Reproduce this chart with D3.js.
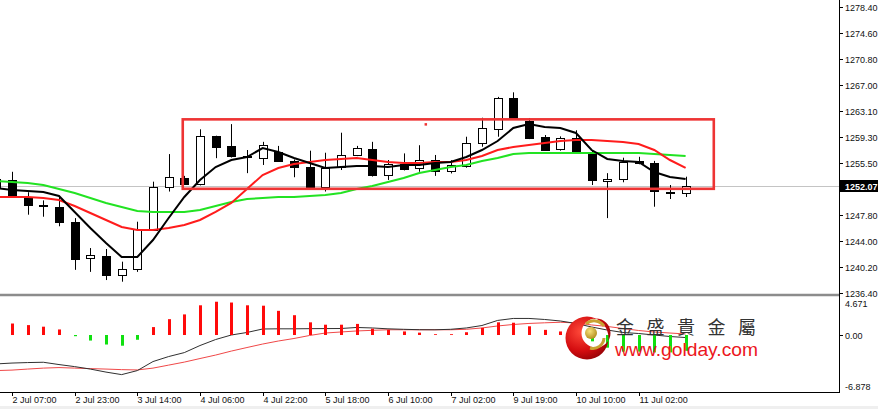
<!DOCTYPE html>
<html><head><meta charset="utf-8">
<script src="https://cdn.jsdelivr.net/npm/d3@7"></script>
<style>html,body{margin:0;padding:0;background:#fff;overflow:hidden}</style>
</head><body><svg id="c" width="878" height="409"></svg>
<script>
// ---------- DATA ----------
const barIndex = d3.range(-1, 44); // 45 H4 bars, index -1 is cut at the left edge
const openP  = [1253.2,1253.0,1250.5,1249.3,1249.07,1246.87,1241.5,1241.83,1239.04,1239.9,1245.75,1252.0,1253.34,1252.4,1259.46,1257.99,1256.45,1256.33,1257.15,1255.8,1254.86,1251.9,1254.95,1256.67,1257.5,1253.73,1255.35,1254.76,1255.93,1254.3,1254.95,1258.38,1260.6,1264.99,1261.66,1259.35,1257.5,1259.12,1257.15,1252.85,1253.24,1255.8,1255.45,1251.3,1251.04];
const highP  = [1254.0,1254.2,1251.2,1250.0,1250.54,1247.4,1243.0,1242.86,1241.0,1246.87,1252.75,1256.8,1253.6,1260.44,1259.5,1261.2,1257.4,1258.6,1258.0,1256.0,1257.3,1257.0,1259.94,1258.0,1258.6,1255.93,1256.9,1258.1,1256.67,1255.9,1259.35,1262.14,1265.2,1265.87,1262.1,1259.6,1259.4,1260.3,1257.3,1254.0,1256.27,1256.4,1255.8,1252.26,1253.48];
const lowP   = [1251.5,1250.6,1247.9,1247.6,1246.2,1239.8,1239.5,1238.3,1238.06,1239.5,1245.6,1251.3,1252.3,1252.2,1256.2,1256.3,1254.0,1255.2,1255.67,1253.4,1251.8,1251.3,1254.46,1256.5,1253.5,1253.0,1254.4,1254.2,1253.6,1253.96,1254.8,1257.88,1259.35,1261.9,1259.0,1257.3,1257.3,1257.0,1252.26,1247.4,1252.66,1255.3,1249.07,1250.2,1250.5];
const closeP = [1251.9,1250.8,1249.3,1249.1,1246.87,1241.5,1242.0,1239.0,1239.9,1245.75,1252.0,1253.4,1252.5,1259.46,1257.88,1256.5,1256.35,1258.2,1255.8,1254.86,1251.9,1254.7,1256.67,1257.74,1253.73,1255.35,1254.6,1255.93,1254.3,1255.2,1258.38,1260.6,1265.08,1262.05,1259.2,1257.5,1259.12,1257.25,1253.0,1253.2,1255.7,1255.45,1251.28,1251.1,1252.07];

const maFast = [1251.82,1251.53,1251.38,1251.23,1250.65,1248.30,1245.95,1243.74,1241.69,1241.69,1244.18,1247.41,1250.50,1252.99,1254.90,1255.93,1256.37,1257.69,1257.11,1256.23,1255.49,1254.76,1254.90,1255.05,1255.05,1254.90,1255.20,1255.20,1255.49,1255.64,1256.37,1257.40,1258.72,1260.63,1261.22,1260.78,1260.63,1259.90,1257.40,1256.08,1255.79,1255.64,1254.17,1253.44,1253.14];
const maMid  = [1250.50,1250.50,1250.50,1250.35,1250.06,1249.18,1248.15,1247.12,1246.09,1245.65,1245.65,1245.95,1246.39,1247.12,1248.30,1249.62,1251.67,1253.73,1254.76,1255.34,1255.64,1255.93,1256.08,1256.23,1255.93,1255.64,1255.49,1255.49,1255.64,1255.64,1255.93,1256.52,1257.40,1257.84,1258.13,1258.43,1258.72,1258.87,1258.87,1258.72,1258.58,1258.28,1257.40,1255.93,1254.76];
const maSlow = [1252.85,1252.70,1252.55,1252.26,1251.67,1251.09,1250.35,1249.62,1249.03,1248.44,1248.30,1248.30,1248.30,1248.59,1249.18,1249.76,1250.20,1250.35,1250.50,1250.50,1250.65,1250.79,1251.09,1251.67,1252.11,1252.70,1253.29,1254.02,1254.46,1254.90,1255.20,1255.79,1256.23,1256.81,1256.96,1256.96,1256.96,1256.96,1256.96,1256.96,1256.96,1256.96,1256.81,1256.67,1256.52];

const macdHist   = [1.6,1.45,1.25,1.05,0.7,-0.15,-0.7,-1.2,-1.35,-0.6,1.0,2.0,2.6,3.75,4.2,4.1,3.75,3.7,3.05,2.5,1.6,1.3,1.3,1.4,0.8,0.65,0.45,0.3,0.1,0.1,0.35,0.9,1.6,1.55,1.1,0.65,0.45,0.2,-0.8,-1.6,-2.1,-2.1,-2.2,-2.2,-2.0];
const macdMain   = [-3.65,-3.54,-3.48,-3.44,-3.73,-3.99,-4.30,-4.68,-5.00,-4.49,-3.35,-2.72,-2.22,-1.33,-0.57,0.00,0.32,0.76,0.78,0.78,0.80,0.81,0.82,0.95,0.89,0.78,0.72,0.67,0.66,0.72,0.89,1.20,1.84,2.09,2.09,1.96,1.77,1.46,1.01,0.63,0.32,0.19,0.00,-0.19,-0.32];
const macdSignal = [-4.49,-4.43,-4.30,-4.18,-4.11,-4.18,-4.24,-4.30,-4.37,-4.41,-4.18,-3.80,-3.42,-2.97,-2.53,-2.03,-1.58,-1.14,-0.76,-0.44,-0.06,0.25,0.38,0.51,0.59,0.66,0.66,0.66,0.66,0.66,0.72,0.89,1.14,1.33,1.46,1.54,1.61,1.52,1.27,1.08,0.82,0.57,0.38,0.25,0.13];

const priceTicks = [1278.40,1274.60,1270.80,1267.00,1263.10,1259.30,1255.50,1247.80,1244.00,1240.20,1236.40];
const macdTicks = [4.671, 0.00, -6.878];
const macdTickLabels = ["4.671", "0.00", "-6.878"];
const timeTickIndex = [0,4,8,12,16,20,24,28,32,36,40];
const timeLabels = ["2 Jul 07:00","2 Jul 23:00","3 Jul 14:00","4 Jul 06:00","4 Jul 22:00","5 Jul 18:00","6 Jul 10:00","7 Jul 02:00","9 Jul 19:00","10 Jul 10:00","11 Jul 02:00"];
const lastPrice = 1252.07;
const boxBars = [10.9, 44.8];
const boxPrices = [1261.9, 1251.7];
const markerBar = 26.4, markerPrice = 1261.2;
const logoCn = "金盛貴金屬";
const logoUrl = "www.golday.com";

// ---------- CHART ----------
const svg = d3.select("#c");
const axisX = 839;
const font = "'Liberation Sans', Arial, sans-serif";
svg.append("rect").attr("width",878).attr("height",409).attr("fill","#fff");
svg.append("rect").attr("x",0).attr("y",406).attr("width",878).attr("height",3).attr("fill","#efefef");

const x = d3.scaleLinear().domain([0,43]).range([12,685.6]);
const y = d3.scaleLinear().domain([1236.4,1278.4]).range([293,7]);
const ym = d3.scaleLinear().domain([-6.878,4.671]).range([389.5,298]);
const px = v => Math.round(x(v));

svg.append("defs").append("clipPath").attr("id","mainclip")
  .append("rect").attr("x",0).attr("y",0).attr("width",axisX).attr("height",294);
const main = svg.append("g").attr("clip-path","url(#mainclip)");

// current price line
main.append("line").attr("x1",0).attr("x2",axisX).attr("y1",Math.round(y(lastPrice))+0.5).attr("y2",Math.round(y(lastPrice))+0.5)
  .attr("stroke","#c4c4c4").attr("stroke-width",1);

// candles
const bars = barIndex.map((k,i)=>({k,o:openP[i],h:highP[i],l:lowP[i],c:closeP[i]}));
const cg = main.append("g");
cg.selectAll("line.w").data(bars).join("line")
  .attr("x1",d=>px(d.k)+0.5).attr("x2",d=>px(d.k)+0.5)
  .attr("y1",d=>y(d.h)).attr("y2",d=>y(d.l))
  .attr("stroke","#000").attr("stroke-width",1);
cg.selectAll("rect.b").data(bars).join("rect")
  .attr("x",d=>px(d.k)-4+0.5)
  .attr("y",d=>Math.round(y(Math.max(d.o,d.c)))+0.5)
  .attr("width",8)
  .attr("height",d=>Math.max(1,Math.round(Math.abs(y(d.o)-y(d.c)))))
  .attr("fill",d=>d.c<d.o?"#000":"#fff")
  .attr("stroke","#000").attr("stroke-width",1);

// moving averages
const ln = d3.line().x((d,i)=>x(barIndex[i])).y(d=>y(d));
main.append("path").attr("d",ln(maSlow)).attr("fill","none").attr("stroke","#22e322").attr("stroke-width",2);
main.append("path").attr("d",ln(maMid)).attr("fill","none").attr("stroke","#ff1c1c").attr("stroke-width",2);
main.append("path").attr("d",ln(maFast)).attr("fill","none").attr("stroke","#000").attr("stroke-width",2);

// range rectangle
main.append("rect").attr("x",x(boxBars[0])).attr("y",y(boxPrices[0]))
  .attr("width",x(boxBars[1])-x(boxBars[0])).attr("height",y(boxPrices[1])-y(boxPrices[0]))
  .attr("fill","none").attr("stroke","#ee3434").attr("stroke-width",2.6);
main.append("rect").attr("x",x(markerBar)-1).attr("y",y(markerPrice)-1).attr("width",2.5).attr("height",2.5).attr("fill","#ee3434");

// panel separator
svg.append("line").attr("x1",0).attr("x2",axisX).attr("y1",295).attr("y2",295).attr("stroke","#8c8c8c").attr("stroke-width",2.5);

// MACD panel
const mg = svg.append("g");
const lnm = d3.line().x((d,i)=>x(barIndex[i])).y(d=>ym(d));
mg.append("path").attr("d",lnm(macdSignal)).attr("fill","none").attr("stroke","#f04848").attr("stroke-width",1);
mg.append("path").attr("d",lnm(macdMain)).attr("fill","none").attr("stroke","#303030").attr("stroke-width",1);
mg.selectAll("rect").data(barIndex.map((k,i)=>({k,v:macdHist[i]}))).join("rect")
  .attr("x",d=>px(d.k)-1).attr("width",3)
  .attr("y",d=>ym(Math.max(0,d.v))).attr("height",d=>Math.abs(ym(d.v)-ym(0)))
  .attr("fill",d=>d.v>=0?"#ff0a0a":"#10e010");

// right axis
svg.append("line").attr("x1",axisX+0.5).attr("x2",axisX+0.5).attr("y1",0).attr("y2",393).attr("stroke","#000");
const ra = svg.append("g").attr("font-family",font).attr("font-size",9).attr("fill","#111");
priceTicks.forEach(v=>{
  const yy = Math.round(y(v))+0.5;
  ra.append("line").attr("x1",axisX).attr("x2",axisX+4).attr("y1",yy).attr("y2",yy).attr("stroke","#000");
  ra.append("text").attr("x",845).attr("y",yy+3).text(d3.format(".2f")(v));
});
// last price box
const ly = Math.round(y(lastPrice));
svg.append("rect").attr("x",axisX+1).attr("y",ly-6).attr("width",38).attr("height",12).attr("fill","#000");
svg.append("text").attr("x",845).attr("y",ly+3.5).attr("font-family",font).attr("font-size",9).attr("font-weight","bold").attr("fill","#fff").text(d3.format(".2f")(lastPrice));
// macd labels
const macdOffsets = [8.5, 3.5, 0];
macdTicks.forEach((v,i)=>{
  const yy = ym(v);
  if (v===0) ra.append("line").attr("x1",axisX).attr("x2",axisX+4).attr("y1",Math.round(yy)+0.5).attr("y2",Math.round(yy)+0.5).attr("stroke","#000");
  ra.append("text").attr("x",845).attr("y",yy+macdOffsets[i]).text(macdTickLabels[i]);
});

// bottom time axis
svg.append("line").attr("x1",0).attr("x2",axisX+1).attr("y1",392.5).attr("y2",392.5).attr("stroke","#000");
const ba = svg.append("g").attr("font-family",font).attr("font-size",9).attr("fill","#111");
timeTickIndex.forEach((k,i)=>{
  const xx = px(k)+0.5;
  ba.append("line").attr("x1",xx).attr("x2",xx).attr("y1",392).attr("y2",396).attr("stroke","#000");
  ba.append("text").attr("x",xx).attr("y",403).text(timeLabels[i]);
});

// watermark logo
const lg = svg.append("g");
const defs = svg.select("defs");
const rg = defs.append("radialGradient").attr("id","redg").attr("cx","35%").attr("cy","35%").attr("r","75%");
rg.append("stop").attr("offset","0%").attr("stop-color","#ff4a3a");
rg.append("stop").attr("offset","60%").attr("stop-color","#d40d10");
rg.append("stop").attr("offset","100%").attr("stop-color","#8a0004");
const gg = defs.append("radialGradient").attr("id","goldg").attr("cx","40%").attr("cy","35%").attr("r","70%");
gg.append("stop").attr("offset","0%").attr("stop-color","#f8e27a");
gg.append("stop").attr("offset","100%").attr("stop-color","#b08a1a");
const cx0=587, cy0=338, r0=21.5, cx1=596, cy1=333, r1=14.5;
const crescent = `M${cx0-r0},${cy0} a${r0},${r0} 0 1,0 ${2*r0},0 a${r0},${r0} 0 1,0 ${-2*r0},0 Z ` +
  `M${cx1-r1},${cy1} a${r1},${r1} 0 1,0 ${2*r1},0 a${r1},${r1} 0 1,0 ${-2*r1},0 Z`;
lg.append("path").attr("d",crescent).attr("fill","url(#redg)").attr("fill-rule","evenodd");
lg.append("path").attr("d",`M586,324 A12,12 0 0,1 604,326`).attr("fill","none").attr("stroke","#c9a232").attr("stroke-width",3);
lg.append("path").attr("d",`M604,338 A11,11 0 0,1 590,348`).attr("fill","none").attr("stroke","#c9a232").attr("stroke-width",3);
lg.append("circle").attr("cx",591).attr("cy",333).attr("r",6).attr("fill","url(#goldg)");
lg.append("text").attr("x",616).attr("y",333.5).attr("font-family","'Noto Sans CJK TC','Noto Sans CJK SC',sans-serif")
  .attr("font-size",18).attr("letter-spacing","12.5px").attr("fill","#333").text(logoCn);
lg.append("text").attr("x",615).attr("y",356).attr("font-family",font).attr("font-size",19)
  .attr("textLength",143).attr("lengthAdjust","spacingAndGlyphs").attr("fill","#ec1620").text(logoUrl);
</script>
</body></html>
